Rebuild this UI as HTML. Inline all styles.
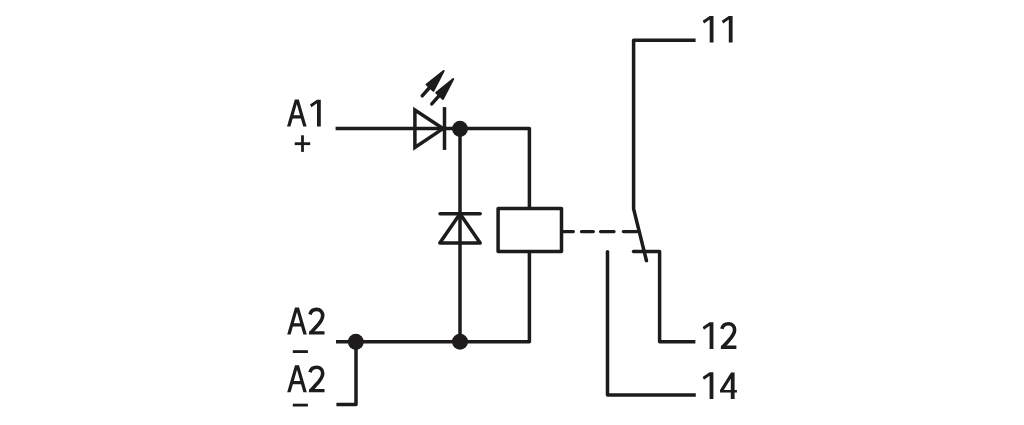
<!DOCTYPE html>
<html><head><meta charset="utf-8">
<style>
html,body{margin:0;padding:0;background:#fff;width:1024px;height:425px;overflow:hidden}
svg{display:block}
</style></head><body>
<svg width="1024" height="425" viewBox="0 0 1024 425">
<defs>
<g id="gA"><path fill-rule="evenodd" d="M0 0 L7.8 -27 L11.8 -27 L19.6 0 L16.2 0 L13.9 -8.0 L5.7 -8.0 L3.4 0 Z M6.6 -11.2 L9.8 -22.5 L13.0 -11.2 Z"/></g>
<g id="g1"><path d="M7.0 -26.6 H10.8 V0 H7.0 Z M7.0 -26.6 L10.8 -26.6 L10.8 -23.2 L7.0 -23.2 L1.4 -19.2 L0 -21.8 Z"/></g>
<g id="g2"><path fill="none" stroke="#1d1b1c" stroke-width="3.6" d="M1.2 -20.0 C2.2 -24.0 4.9 -25.1 7.7 -25.1 C11.6 -25.1 13.9 -22.5 13.9 -18.8 C13.9 -14.8 11.4 -11.8 7.0 -7.2 L1.9 -1.6"/><path d="M0.4 -3.3 H15.7 V0 H0 Z"/></g>
<g id="g4"><path d="M10.8 -26.4 H14.6 V0 H10.8 Z M0 -8.9 H16.9 V-6.4 H0 Z M11.0 -26.4 L14.6 -26.4 L3.8 -8.9 L0 -8.9 Z"/></g>
<g id="arr"><path d="M422.2 95.8 L429.6 87.5" stroke="#1d1b1c" stroke-width="3.5" stroke-linecap="round" fill="none"/><path d="M443.6 71.0 L426.6 84.6 L433.4 90.8 Z" stroke="#1d1b1c" stroke-width="2" stroke-linejoin="round"/></g>
</defs>
<g fill="none" stroke="#1d1b1c" stroke-width="3.5" stroke-linejoin="round" stroke-linecap="butt">
<!-- A1 line -->
<path d="M335.6 128.6 H529.4 V208.6"/>
<!-- LED diode -->
<path d="M414.9 110 V147.4 L443 128.6 Z" stroke-linejoin="miter"/>
<path d="M444.5 107.1 V149.9"/>
<!-- vertical from junction -->
<path d="M460 128.6 V341.7"/>
<!-- zener -->
<path d="M440 213.7 H480.2" stroke-linecap="round"/>
<path d="M460 213.7 L480.2 243.1 H439.8 Z"/>
<!-- relay box -->
<path d="M498.1 208.6 H561.5 V251.4 H498.1 Z"/>
<path d="M529.4 251.4 V341.7 H336"/>
<path d="M356 341.7 V404.4 H336.4"/>
<!-- switch -->
<path d="M695.6 40.3 H633.6 V208.8 L646.5 260.8"/>
<path d="M633.5 251.6 H659.6 V341.8 H695.4"/>
<path d="M607.5 251.8 V395 H695.8"/>
</g>
<path d="M562 231.6 H573.3 M581.5 231.6 H593.3 M600.6 231.6 H614 M623.4 231.6 H637" fill="none" stroke="#1d1b1c" stroke-width="3.4" stroke-linecap="round"/>
<g fill="#1d1b1c">
<circle cx="460" cy="128.8" r="7.95"/>
<circle cx="355.8" cy="341.8" r="8"/>
<circle cx="460" cy="341.7" r="7.95"/>
<circle cx="646.5" cy="260.8" r="1.75"/><circle cx="633.5" cy="251.6" r="1.75"/><circle cx="607.5" cy="251.8" r="1.75"/>
<!-- plus / minus -->
<rect x="294.7" y="142.3" width="15.5" height="2.8"/>
<rect x="301.1" y="135.3" width="2.8" height="16.6"/>
<rect x="292.8" y="350.2" width="15.1" height="2.8"/>
<rect x="292.8" y="403.7" width="15.1" height="2.8"/>
<!-- labels -->
<use href="#gA" x="287" y="126.4"/><use href="#g1" x="310" y="126.4"/>
<use href="#gA" x="287.2" y="334.5"/><use href="#g2" x="308.8" y="334.5"/>
<use href="#gA" x="287.2" y="392.3"/><use href="#g2" x="308.8" y="392.3"/>
<use href="#g1" x="702.7" y="42.6"/><use href="#g1" x="721.8" y="42.6"/>
<use href="#g1" x="702.6" y="348.9"/><use href="#g2" x="720.7" y="348.9"/>
<use href="#g1" x="702.6" y="398.9"/><use href="#g4" x="720.0" y="398.9"/>
<!-- LED arrows -->
<use href="#arr"/>
<use href="#arr" x="9.6" y="8.1"/>
</g>
</svg>
</body></html>
